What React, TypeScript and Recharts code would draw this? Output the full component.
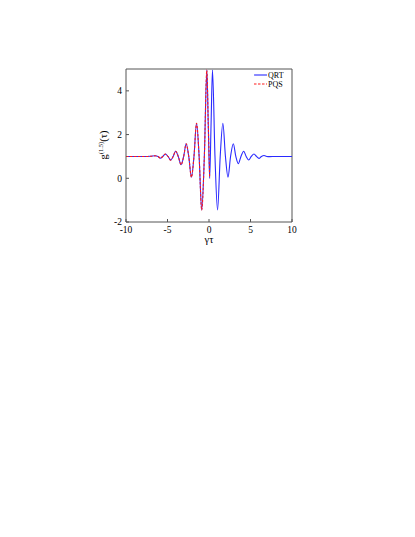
import { Legend, Line, LineChart, ReferenceLine, XAxis, YAxis } from "recharts"

// values (extremes and the crossings of g = 1)
const tau = [
  -10, -8, -7.4, -7.0, -6.5, -6.15, -5.86, -5.56, -5.26, -4.94, -4.62, -4.32, -4.02, -3.7, -3.37, -3.05,
  -2.75, -2.44, -2.12, -1.81, -1.5, -1.19, -0.88, -0.56, -0.26, -0.09, 0.08, 0.25, 0.42, 0.72, 1.03, 1.35,
  1.67, 1.98, 2.29, 2.6, 2.93, 3.23, 3.53, 3.85, 4.18, 4.48, 4.78, 5.1, 5.42, 5.72, 6.02, 6.32, 6.63, 6.95,
  7.3, 8, 10
]
const qrt = [
  1.0, 1.0, 1.0, 1.01, 1.03, 1.0, 0.92, 1.0, 1.11, 1.0, 0.83, 1.0, 1.24, 1.0, 0.62, 1.0,
  1.58, 1.0, 0.05, 1.0, 2.52, 1.0, -1.45, 1.0, 4.95, 2.5, 0.0, 2.5, 4.95, 1.0, -1.45, 1.0,
  2.52, 1.0, 0.05, 1.0, 1.58, 1.0, 0.67, 1.0, 1.24, 1.0, 0.84, 1.0, 1.11, 1.0, 0.91, 1.0, 1.04, 1.0,
  0.99, 1.0, 1.0
]
const pqs = [
  1.0, 1.0, 1.0, 1.01, 1.03, 1.0, 0.92, 1.0, 1.11, 1.0, 0.83, 1.0, 1.24, 1.0, 0.62, 1.0,
  1.58, 1.0, 0.05, 1.0, 2.52, 1.0, -1.45, 1.0, 4.95, 2.5, 0.0, null, null, null, null, null,
  null, null, null, null, null, null, null, null, null, null, null, null, null, null, null, null, null, null,
  null, null, null
]
const xTicks = [-10, -5, 0, 5, 10]
const yTicks = [-2, 0, 2, 4]

const data = tau.map((t, i) => ({ tau: t, qrt: qrt[i], pqs: pqs[i] }))

const font = "'Liberation Serif', 'Times New Roman', serif"
const axisColor = "#555"
const blue = "#2a2aff"
const red = "#ff1a1a"

function LegendBox() {
  return (
    <svg width={50} height={24} style={{ fontFamily: font, fontSize: 8 }}>
      <line x1={2} y1={5} x2={15} y2={5} stroke={blue} strokeWidth={1.1} />
      <text x={16} y={8} fill="#000">QRT</text>
      <line x1={2} y1={14} x2={15} y2={14} stroke={red} strokeWidth={1.1} strokeDasharray="2.5 1.5" />
      <text x={16} y={17} fill="#000">PQS</text>
    </svg>
  )
}

function YLabel() {
  return (
    <text
      transform="translate(107,145) rotate(-90)"
      textAnchor="middle"
      style={{ fontFamily: font, fontSize: 10.5 }}
      fill="#000"
    >
      g
      <tspan dy={-4} fontSize={6.5}>(1.5)</tspan>
      <tspan dy={4}>(τ)</tspan>
    </text>
  )
}

export default function App() {
  return (
    <div style={{ position: "absolute", left: 0, top: 0 }}>
      <LineChart
        width={415}
        height={537}
        data={data}
        margin={{ top: 69, right: 123, bottom: 285, left: 96 }}
      >
        <XAxis
          dataKey="tau"
          type="number"
          domain={[-10, 10]}
          ticks={xTicks}
          allowDataOverflow
          height={30}
          stroke={axisColor}
          tickSize={-3}
          tickMargin={7}
          tick={{ fill: "#000", fontSize: 9.5, fontFamily: font }}
          label={{ value: "γτ", position: "insideTop", offset: 14, fill: "#000", fontSize: 10.5, fontFamily: font }}
        />
        <YAxis
          type="number"
          domain={[-2, 5]}
          ticks={yTicks}
          allowDataOverflow
          width={30}
          stroke={axisColor}
          tickSize={-3}
          tickMargin={7}
          tick={{ fill: "#000", fontSize: 9.5, fontFamily: font }}
        />
        <ReferenceLine y={5} stroke={axisColor} />
        <ReferenceLine x={10} stroke={axisColor} />
        <Line
          dataKey="qrt"
          type="monotone"
          stroke={blue}
          strokeWidth={1.1}
          dot={false}
          isAnimationActive={false}
        />
        <Line
          dataKey="pqs"
          type="monotone"
          stroke={red}
          strokeWidth={1.1}
          strokeDasharray="2.5 1.5"
          dot={false}
          connectNulls={false}
          isAnimationActive={false}
        />
        <Legend
          layout="vertical"
          align="center"
          verticalAlign="middle"
          content={<LegendBox />}
          wrapperStyle={{ position: "absolute", left: 252, top: 70, width: 50, height: 24 }}
        />
        <YLabel />
      </LineChart>
    </div>
  )
}
